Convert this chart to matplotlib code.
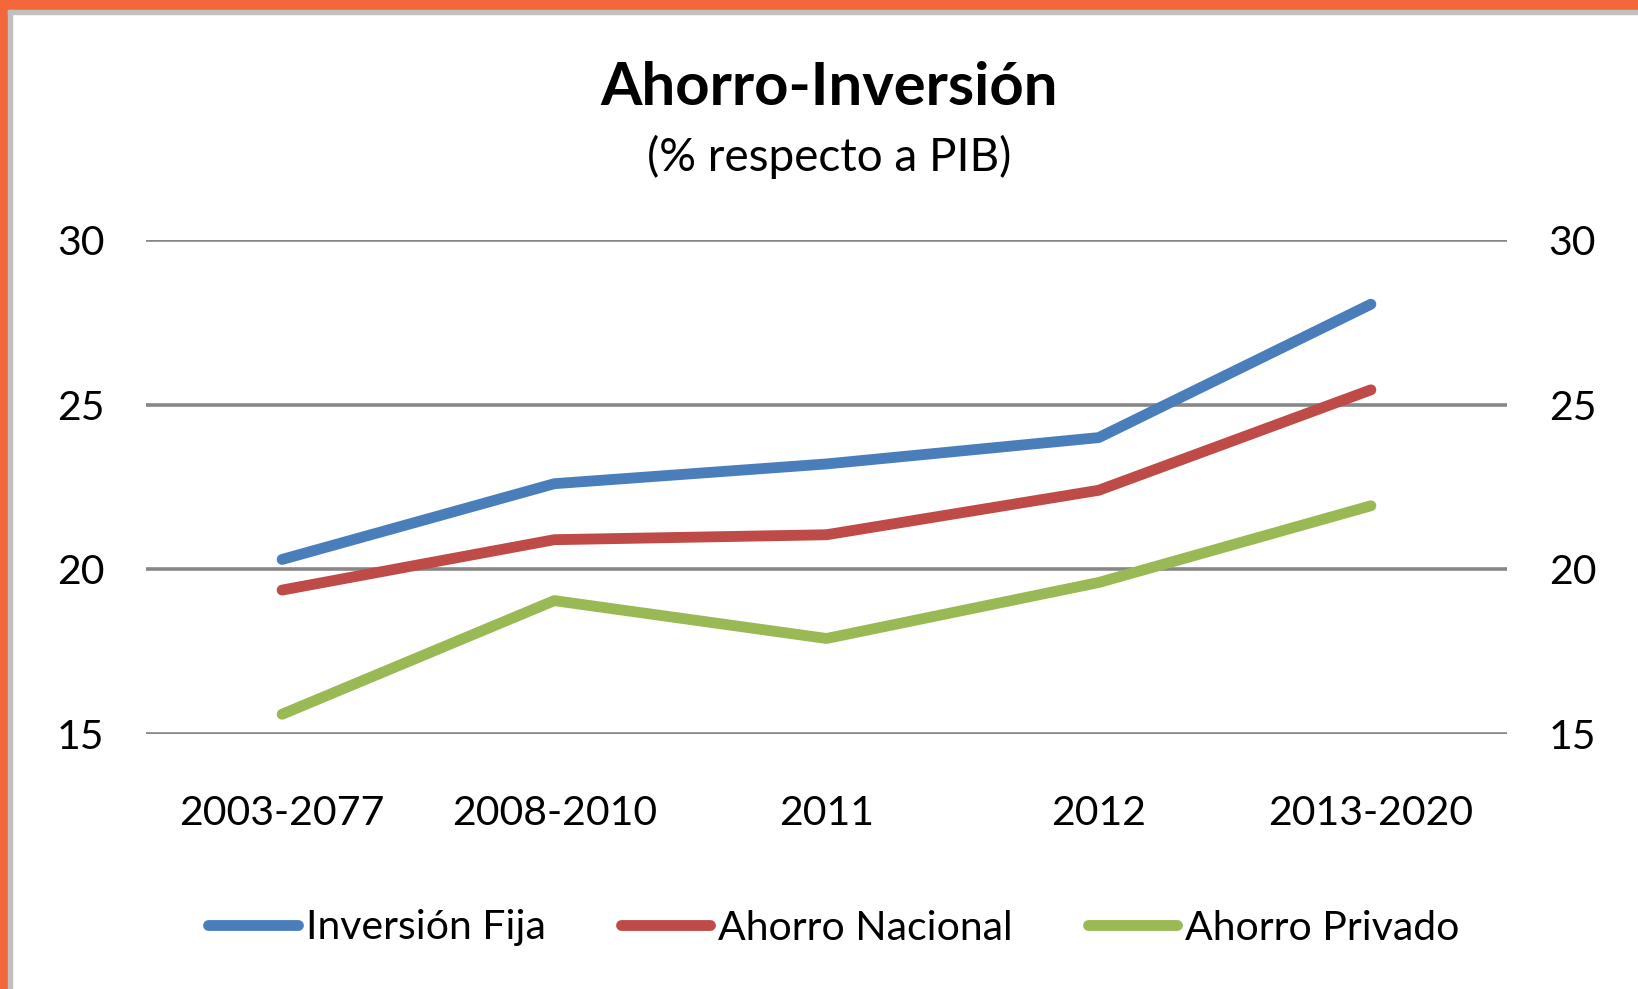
import matplotlib
matplotlib.use("Agg")
import matplotlib.pyplot as plt
from matplotlib.patches import Rectangle

# datos
categorias = ["2003-2077", "2008-2010", "2011", "2012", "2013-2020"]
inversion_fija = [20.3, 22.6, 23.2, 24.0, 28.05]
ahorro_nacional = [19.37, 20.9, 21.05, 22.4, 25.45]
ahorro_privado = [15.6, 19.05, 17.9, 19.6, 21.93]

plt.rcParams["font.family"] = ["Lato", "DejaVu Sans"]

W, H = 1638, 989
fig = plt.figure(figsize=(W / 100, H / 100), dpi=100)
fig.patch.set_facecolor("white")

# marco naranja y gris
fig.patches.append(Rectangle((0, 1 - 9 / H), 1, 9 / H, transform=fig.transFigure,
                             color="#F4673A", zorder=0))
fig.patches.append(Rectangle((0, 0), 7 / W, 1, transform=fig.transFigure,
                             color="#F4673A", zorder=0))
fig.patches.append(Rectangle((8 / W, 1 - 14 / H), 1, 4 / H, transform=fig.transFigure,
                             color="#C0C0C0", zorder=0))
fig.patches.append(Rectangle((8 / W, 0), 4 / W, 1 - 10 / H, transform=fig.transFigure,
                             color="#C0C0C0", zorder=0))

ax = fig.add_axes([146 / W, 1 - 734 / H, (1507 - 146) / W, (734 - 240) / H])
x = range(len(categorias))
ax.plot(x, inversion_fija, color="#4A7EBB", lw=7.8, solid_capstyle="round",
        label="Inversión Fija", zorder=3)
ax.plot(x, ahorro_nacional, color="#BE4B48", lw=7.8, solid_capstyle="round",
        label="Ahorro Nacional", zorder=3)
ax.plot(x, ahorro_privado, color="#98B954", lw=7.8, solid_capstyle="round",
        label="Ahorro Privado", zorder=3)

ax.set_xlim(-0.5, 4.5)
ax.set_ylim(15, 30)
ax.set_yticks([15, 20, 25, 30])
ax.set_xticks(list(x))
ax.set_xticklabels(categorias)
ax.grid(axis="y", color="#878787", lw=2.6)
ax.set_axisbelow(True)
for s in ax.spines.values():
    s.set_visible(False)
ax.tick_params(axis="y", length=0, labelsize=29.5, pad=30, labelleft=True, labelright=True)
ax.tick_params(axis="x", length=0, labelsize=29.5, pad=44)

fig.text(0.506, 1 - 88 / H, "Ahorro-Inversión", ha="center", va="center",
         fontsize=43, fontweight="bold")
fig.text(0.506, 1 - 157 / H, "(% respecto a PIB)", ha="center", va="center",
         fontsize=33)

fig.legend(loc="center", bbox_to_anchor=(834 / W, 1 - 928 / H), ncol=3, frameon=False,
           fontsize=29.5, handlelength=2.18, handletextpad=0.2, columnspacing=1.83)

fig.savefig("out.png", dpi=100)
